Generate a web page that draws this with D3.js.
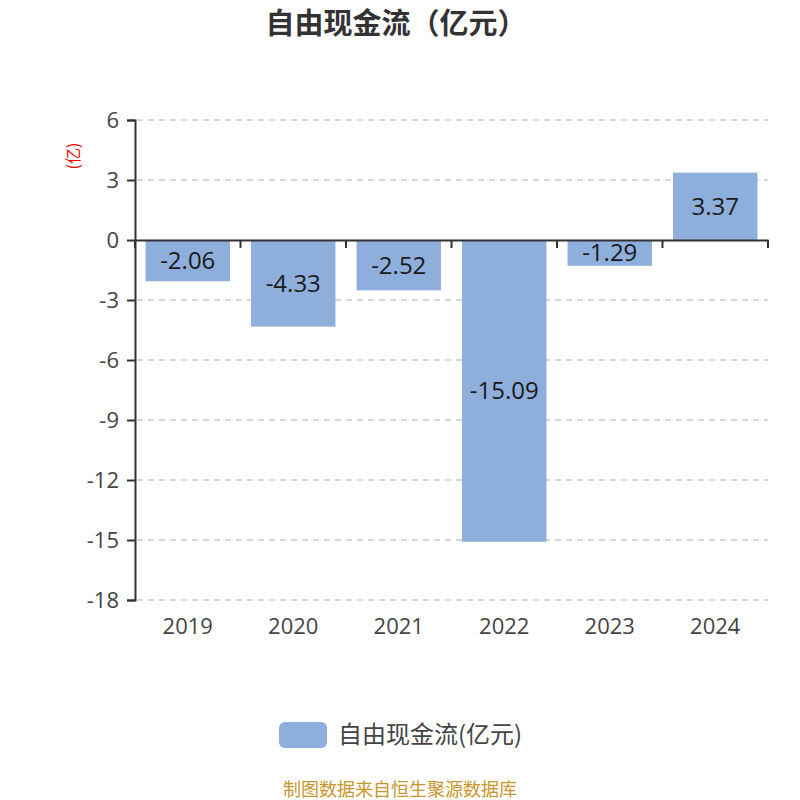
<!DOCTYPE html>
<html>
<head>
<meta charset="utf-8">
<style>
  body { margin: 0; background: #fff; }
  text { font-family: "Noto Sans CJK SC", "Open Sans", sans-serif; }
</style>
</head>
<body>
<script src="https://d3js.org/d3.v7.min.js"></script>
<script>
var years = ["2019", "2020", "2021", "2022", "2023", "2024"];
var values = [-2.06, -4.33, -2.52, -15.09, -1.29, 3.37];
var yTicks = [6, 3, 0, -3, -6, -9, -12, -15, -18];
var seriesName = "自由现金流(亿元)";

var W = 800, H = 800;
var mLeft = 135, mRight = 768, mTop = 120, mBottom = 600;
var numFont = "'Open Sans', sans-serif";

var svg = d3.select("body").append("svg").attr("width", W).attr("height", H);

var x = d3.scaleBand().domain(years).range([mLeft, mRight]).paddingInner(0.2).paddingOuter(0.1);
var y = d3.scaleLinear().domain([-18, 6]).range([mBottom, mTop]);

// title
svg.append("text").attr("x", 396).attr("y", 34).attr("text-anchor", "middle")
  .attr("font-size", "29px").attr("font-weight", "bold").attr("fill", "#333")
  .text("自由现金流（亿元）");

// unit label
svg.append("text").attr("transform", "translate(79,156) rotate(-90)")
  .attr("text-anchor", "middle").attr("font-size", "16px").attr("fill", "red")
  .text("(亿)");

// grid
svg.selectAll("line.grid").data(yTicks.filter(function(d){ return d !== 0; }))
  .enter().append("line").attr("class", "grid")
  .attr("x1", mLeft + 2).attr("x2", mRight)
  .attr("y1", function(d){ return y(d); }).attr("y2", function(d){ return y(d); })
  .attr("stroke", "#ccc").attr("stroke-width", 1.5).attr("stroke-dasharray", "6,5");

// bars
svg.selectAll("rect.bar").data(values).enter().append("rect").attr("class", "bar")
  .attr("x", function(d, i){ return x(years[i]); })
  .attr("width", x.bandwidth())
  .attr("y", function(d){ return y(Math.max(0, d)); })
  .attr("height", function(d){ return Math.abs(y(d) - y(0)); })
  .attr("fill", "#8eaedb");

// bar labels
svg.selectAll("text.lbl").data(values).enter().append("text").attr("class", "lbl")
  .attr("x", function(d, i){ return x(years[i]) + x.bandwidth() / 2; })
  .attr("y", function(d){ return (y(d) + y(0)) / 2; })
  .attr("dy", "0.35em").attr("text-anchor", "middle")
  .attr("font-size", "24px").attr("fill", "#1a1a1a")
  .style("font-family", numFont)
  .text(function(d){ return d.toFixed(2); });

// y axis
var yAxis = svg.append("g").attr("transform", "translate(" + mLeft + ",0)")
  .call(d3.axisLeft(y).tickValues(yTicks).tickSize(8).tickPadding(8)
    .tickFormat(function(d){ return String(d); }));
yAxis.select(".domain").attr("stroke", "#333").attr("stroke-width", 2);
yAxis.selectAll(".tick line").attr("stroke", "#333").attr("stroke-width", 2);
yAxis.selectAll(".tick text").attr("font-size", "22px").attr("fill", "#444")
  .style("font-family", numFont);

// x axis at zero
var xAxis = svg.append("g").attr("transform", "translate(0," + y(0) + ")")
  .call(d3.axisBottom(x).tickSizeOuter(0).tickSizeInner(0).tickFormat(""));
xAxis.select(".domain").attr("stroke", "#333").attr("stroke-width", 2);
xAxis.selectAll(".tick").remove();
var edges = d3.range(years.length + 1).map(function(i){ return mLeft + i * x.step(); });
xAxis.selectAll("line.edge").data(edges).enter().append("line").attr("class", "edge")
  .attr("x1", function(d){ return d; }).attr("x2", function(d){ return d; })
  .attr("y1", 0).attr("y2", 8).attr("stroke", "#333").attr("stroke-width", 2);

// category labels at bottom
svg.selectAll("text.cat").data(years).enter().append("text").attr("class", "cat")
  .attr("x", function(d){ return x(d) + x.bandwidth() / 2; })
  .attr("y", 634).attr("text-anchor", "middle")
  .attr("font-size", "22px").attr("fill", "#444")
  .style("font-family", numFont)
  .text(function(d){ return d; });

// legend
svg.append("rect").attr("x", 279).attr("y", 722).attr("width", 48).attr("height", 26)
  .attr("rx", 6).attr("fill", "#8eaedb");
svg.append("text").attr("x", 338).attr("y", 743).attr("font-size", "24px").attr("fill", "#444")
  .text(seriesName);

// source
svg.append("text").attr("x", 400).attr("y", 796).attr("text-anchor", "middle")
  .attr("font-size", "18px").attr("fill", "#c8962a")
  .text("制图数据来自恒生聚源数据库");
</script>
</body>
</html>
